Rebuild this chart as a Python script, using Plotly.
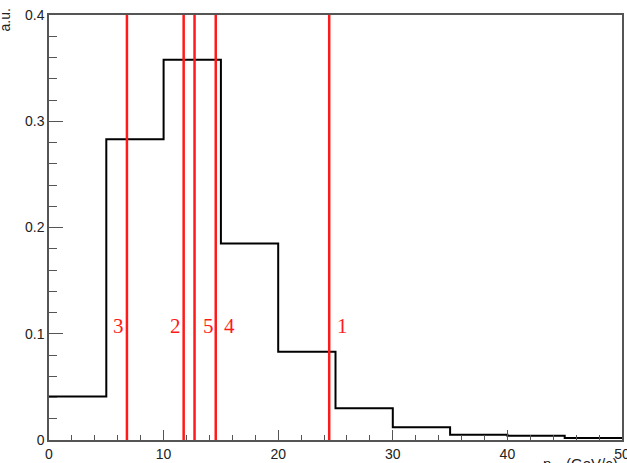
import plotly.graph_objects as go

# Histogram data (pT bins in GeV/c, normalized a.u.)
bin_edges = [0, 5, 10, 15, 20, 25, 30, 35, 40, 45, 50]
bin_values = [0.041, 0.283, 0.358, 0.185, 0.083, 0.030, 0.012, 0.005, 0.004, 0.002]

# Vertical red marker lines and labels
line_positions = [24.45, 11.75, 6.8, 14.55, 12.7]
line_labels = ["1", "2", "3", "4", "5"]
label_side = ["right", "left", "left", "right", "right"]
label_y = 0.107

x_ticks = [0, 10, 20, 30, 40, 50]
y_ticks = [0, 0.1, 0.2, 0.3, 0.4]

fig = go.Figure()

# Step histogram
fig.add_trace(go.Scatter(
    x=bin_edges,
    y=bin_values + [bin_values[-1]],
    mode="lines",
    line=dict(color="black", width=2, shape="hv"),
    showlegend=False, hoverinfo="skip",
))

for pos in line_positions:
    fig.add_trace(go.Scatter(
        x=[pos, pos], y=[0, 0.4], mode="lines",
        line=dict(color="#ff1a1a", width=2.5),
        showlegend=False, hoverinfo="skip",
    ))

for pos, lab, side in zip(line_positions, line_labels, label_side):
    fig.add_annotation(
        x=pos, y=label_y, xref="x", yref="y",
        text=lab, showarrow=False,
        xanchor="left" if side == "right" else "right",
        xshift=6 if side == "right" else -1,
        font=dict(family="Liberation Serif", size=21, color="#ff1a1a"),
    )

# axis titles
fig.add_annotation(
    x=1.0, y=0, xref="paper", yref="paper", yshift=-13, xshift=-2,
    text="p<sub>T</sub>  (GeV/c)", showarrow=False,
    xanchor="right", yanchor="top",
    font=dict(family="Liberation Sans", size=15, color="#222"),
)
fig.add_annotation(
    x=0, y=1.0, xref="paper", yref="paper", xshift=-45, yshift=8,
    text="a.u.", showarrow=False, textangle=-90,
    xanchor="center", yanchor="top",
    font=dict(family="Liberation Sans", size=14, color="#222"),
)

axis_common = dict(
    showgrid=False, zeroline=False, showline=True, mirror=True,
    linecolor="#555", linewidth=1.5,
    ticks="inside", tickcolor="#555", tickwidth=1.2,
    ticklabeloverflow="allow", automargin=False,
    tickfont=dict(family="Liberation Sans", size=14, color="#222"),
)

fig.update_xaxes(
    range=[0, 50], tickvals=x_ticks, ticklen=10,
    minor=dict(dtick=2, ticks="inside", ticklen=5, tickcolor="#555"),
    **axis_common,
)
fig.update_yaxes(
    range=[0, 0.4], tickvals=y_ticks, ticklen=14,
    ticktext=["0", "0.1", "0.2", "0.3", "0.4"],
    minor=dict(dtick=0.02, ticks="inside", ticklen=8, tickcolor="#555"),
    **axis_common,
)

fig.update_layout(
    width=627, height=463,
    margin=dict(l=49, r=5, t=15, b=23, autoexpand=False),
    paper_bgcolor="white", plot_bgcolor="white",
)

fig.write_html("out.html")
